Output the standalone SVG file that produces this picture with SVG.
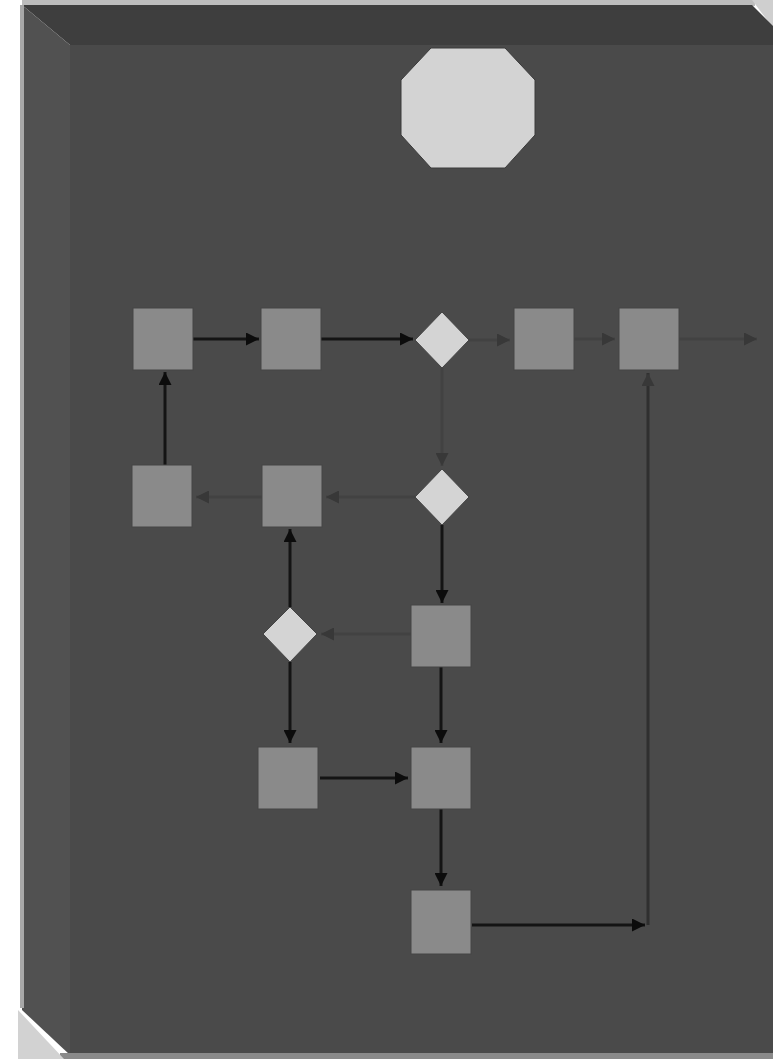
<svg xmlns="http://www.w3.org/2000/svg" width="773" height="1059" viewBox="0 0 773 1059">
<style>
.box{fill:#8a8a8a;stroke:#444;stroke-width:1}
.dia{fill:#d4d4d4;stroke:#444;stroke-width:1}
.blk{stroke:#141414;stroke-width:3;fill:none}
.gry{stroke:#424242;stroke-width:3;fill:none}
.vrt{stroke:#2f2f2f;stroke-width:3;fill:none}
</style>
<defs>
<marker id="ab" viewBox="0 0 10 10" refX="10" refY="5" markerWidth="15" markerHeight="13" markerUnits="userSpaceOnUse" orient="auto"><path d="M0,0 L10,5 L0,10 z" fill="#0c0c0c"/></marker>
<marker id="ag" viewBox="0 0 10 10" refX="10" refY="5" markerWidth="15" markerHeight="13" markerUnits="userSpaceOnUse" orient="auto"><path d="M0,0 L10,5 L0,10 z" fill="#383838"/></marker>
</defs>
<rect width="773" height="1059" fill="#ffffff"/>
<g id="panel">
<rect x="22" y="0" width="733" height="6" fill="#bdbdbd"/>
<polygon points="752,0 773,0 773,28" fill="#cfcfcf"/>
<polygon points="22,5 752,5 773,26 773,45 70,45" fill="#3e3e3e"/>
<polygon points="22,5 70,45 70,1055 22,1010" fill="#515151"/>
<rect x="20" y="5" width="4" height="1003" fill="#a8a8a8"/>
<rect x="70" y="45" width="703" height="1009" fill="#4a4a4a"/>
<rect x="60" y="1053" width="713" height="6" fill="#8a8a8a"/>
<polygon points="18,1010 64,1059 18,1059" fill="#d2d2d2"/>
</g>
<g id="connectors">
<line class="blk" x1="193" y1="339" x2="259" y2="339" marker-end="url(#ab)"/>
<line class="blk" x1="321" y1="339" x2="413" y2="339" marker-end="url(#ab)"/>
<line class="gry" x1="469" y1="340" x2="510" y2="340" marker-end="url(#ag)"/>
<line class="gry" x1="574" y1="339" x2="615" y2="339" marker-end="url(#ag)"/>
<line class="gry" x1="679" y1="339" x2="757" y2="339" marker-end="url(#ag)"/>
<line class="blk" x1="165" y1="465" x2="165" y2="372" marker-end="url(#ab)"/>
<line class="gry" x1="442" y1="368" x2="442" y2="466" marker-end="url(#ag)"/>
<line class="gry" x1="415" y1="497" x2="326" y2="497" marker-end="url(#ag)"/>
<line class="gry" x1="262" y1="497" x2="196" y2="497" marker-end="url(#ag)"/>
<line class="blk" x1="290" y1="607" x2="290" y2="529" marker-end="url(#ab)"/>
<line class="blk" x1="442" y1="525" x2="442" y2="603" marker-end="url(#ab)"/>
<line class="gry" x1="411" y1="634" x2="321" y2="634" marker-end="url(#ag)"/>
<line class="blk" x1="290" y1="662" x2="290" y2="743" marker-end="url(#ab)"/>
<line class="blk" x1="441" y1="667" x2="441" y2="743" marker-end="url(#ab)"/>
<line class="blk" x1="320" y1="778" x2="408" y2="778" marker-end="url(#ab)"/>
<line class="blk" x1="441" y1="809" x2="441" y2="886" marker-end="url(#ab)"/>
<line class="blk" x1="472" y1="925" x2="645" y2="925" marker-end="url(#ab)"/>
<line class="vrt" x1="648" y1="925" x2="648" y2="373" marker-end="url(#ag)"/>
</g>
<g id="start"><polygon points="431,48 505,48 535,80 535,135 505,168 431,168 401,135 401,80" fill="#d3d3d3" stroke="#3a3a3a" stroke-width="1"/></g>
<g id="nA"><rect class="box" x="133" y="308" width="60" height="62"/></g>
<g id="nB"><rect class="box" x="261" y="308" width="60" height="62"/></g>
<g id="nC"><polygon class="dia" points="442,312 469,340 442,368 415,340"/></g>
<g id="nD"><rect class="box" x="514" y="308" width="60" height="62"/></g>
<g id="nE"><rect class="box" x="619" y="308" width="60" height="62"/></g>
<g id="nF"><rect class="box" x="132" y="465" width="60" height="62"/></g>
<g id="nG"><rect class="box" x="262" y="465" width="60" height="62"/></g>
<g id="nH"><polygon class="dia" points="442,469 469,497 442,525 415,497"/></g>
<g id="nI"><polygon class="dia" points="290,607 317,634 290,662 263,634"/></g>
<g id="nJ"><rect class="box" x="411" y="605" width="60" height="62"/></g>
<g id="nK"><rect class="box" x="258" y="747" width="60" height="62"/></g>
<g id="nL"><rect class="box" x="411" y="747" width="60" height="62"/></g>
<g id="nM"><rect class="box" x="411" y="890" width="60" height="64"/></g>
</svg>
